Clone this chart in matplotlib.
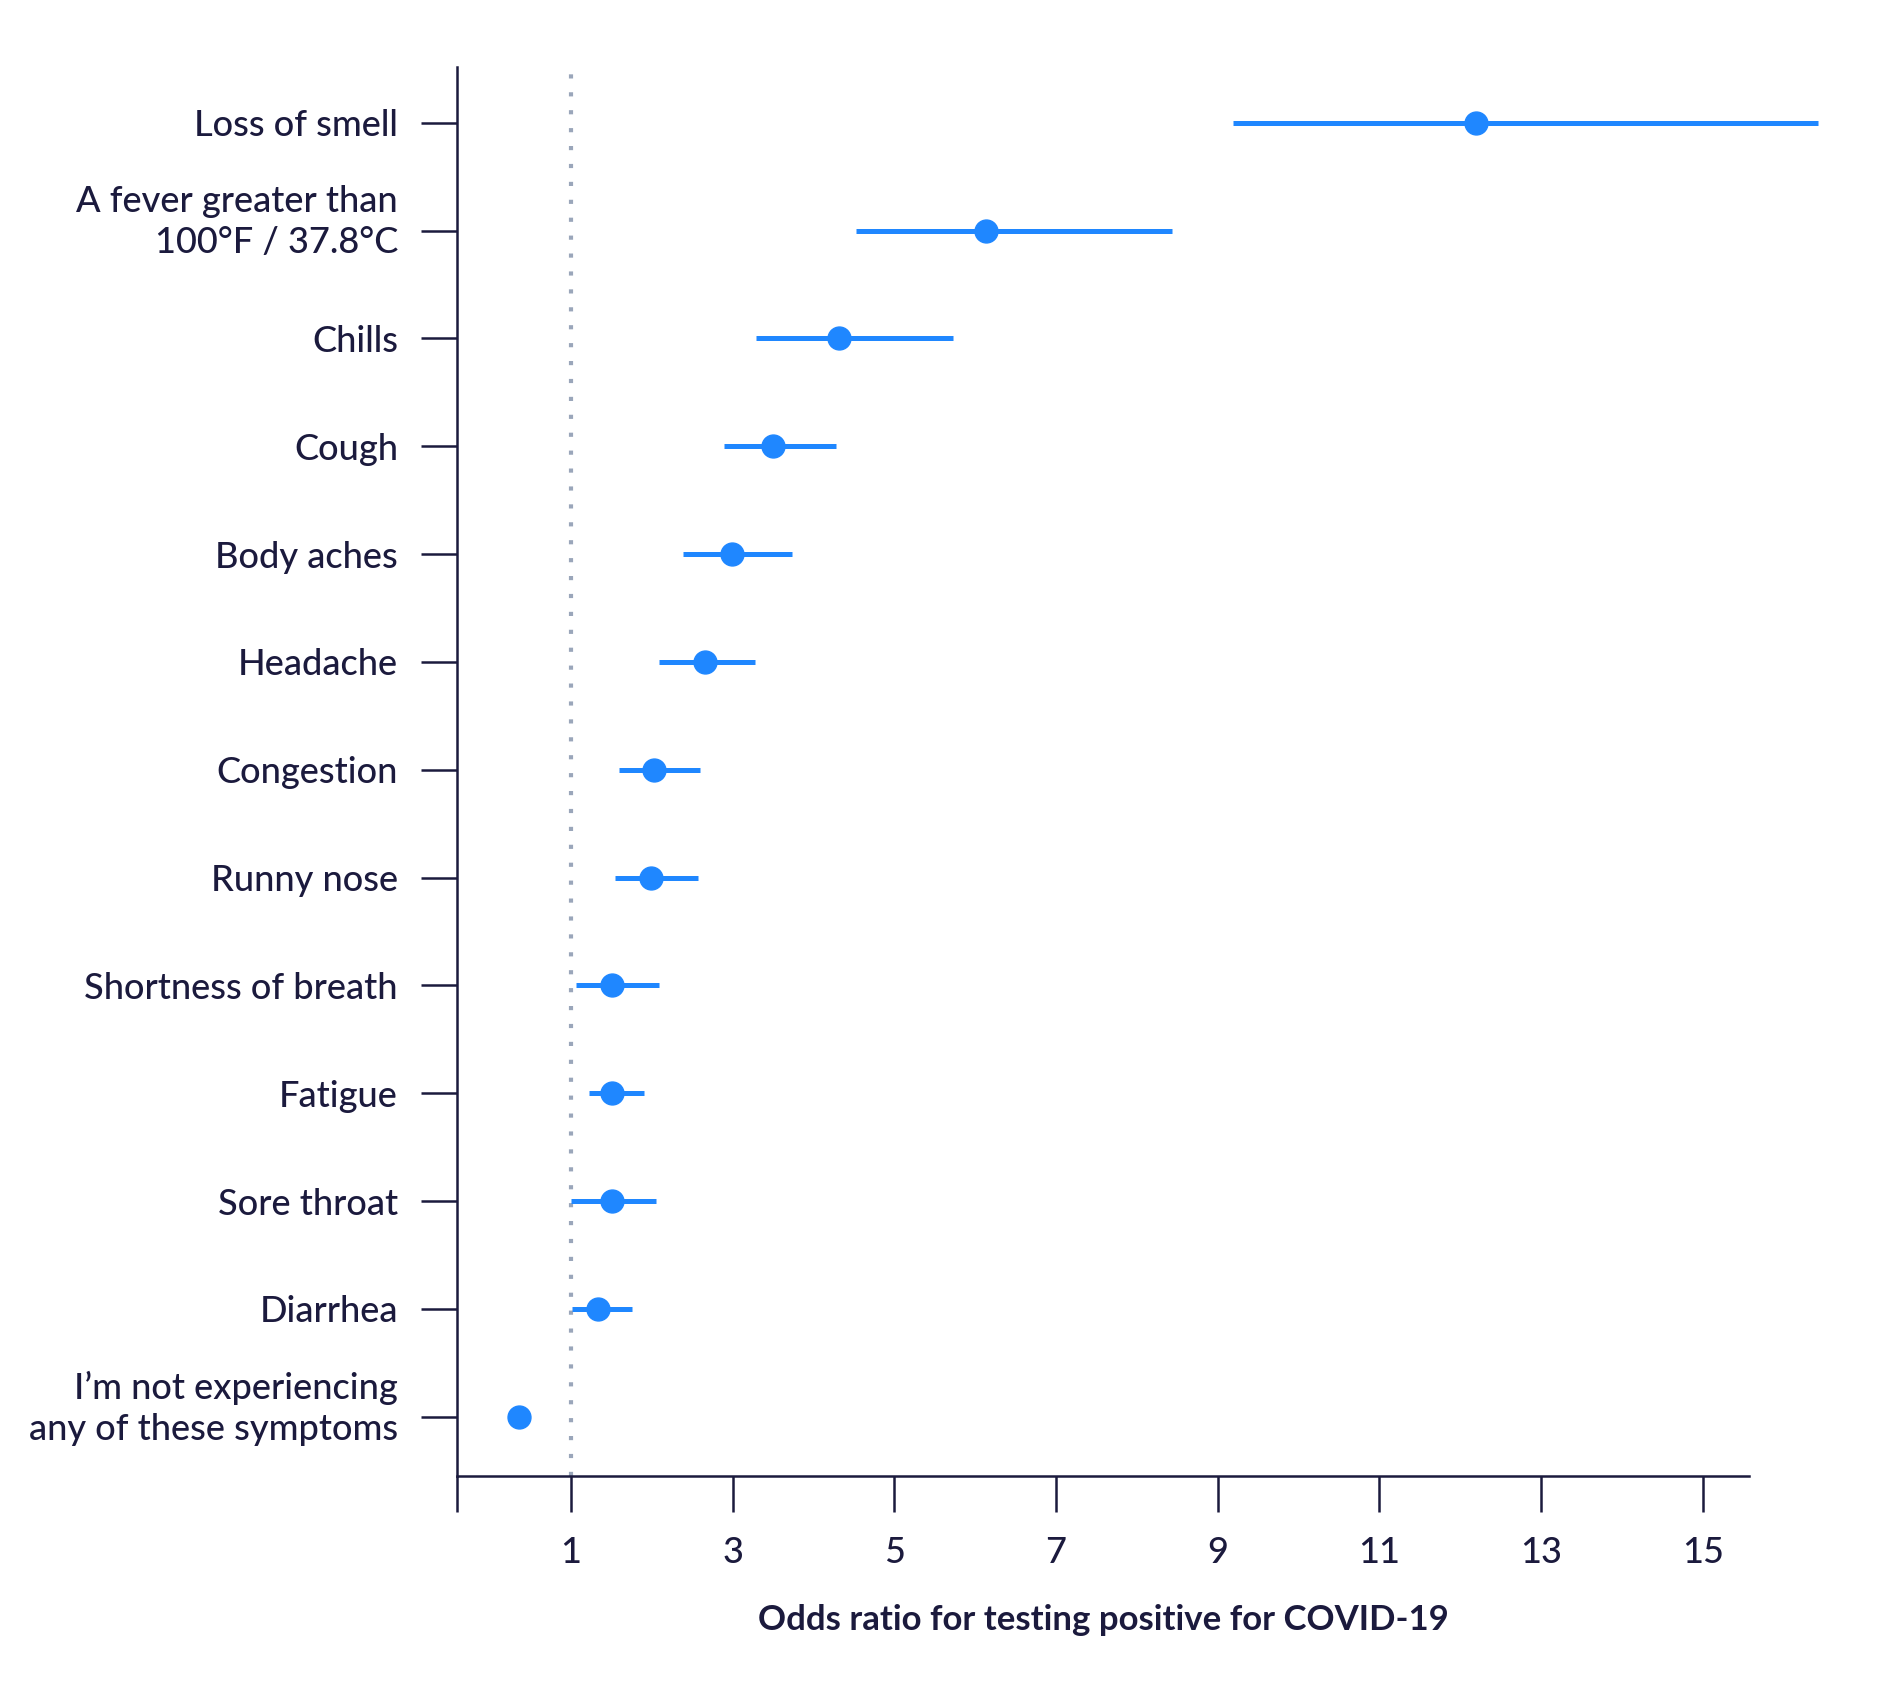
import matplotlib
matplotlib.use("Agg")
import matplotlib.pyplot as plt
import matplotlib.transforms as mtransforms

# Symptom odds ratios with confidence intervals
symptoms = [
    "Loss of smell",
    "A fever greater than\n100\u00b0F / 37.8\u00b0C",
    "Chills",
    "Cough",
    "Body aches",
    "Headache",
    "Congestion",
    "Runny nose",
    "Shortness of breath",
    "Fatigue",
    "Sore throat",
    "Diarrhea",
    "I\u2019m not experiencing\nany of these symptoms",
]
odds = [12.2, 6.13, 4.32, 3.5, 2.99, 2.66, 2.03, 1.99, 1.51, 1.51, 1.51, 1.34, 0.36]
ci_low = [9.19, 4.53, 3.29, 2.89, 2.38, 2.09, 1.60, 1.54, 1.06, 1.22, 1.00, 1.01, 0.32]
ci_high = [16.43, 8.44, 5.72, 4.28, 3.74, 3.28, 2.60, 2.57, 2.09, 1.90, 2.05, 1.75, 0.40]
xticks = [1, 3, 5, 7, 9, 11, 13, 15]

BLUE = "#1f87ff"
NAVY = "#1b1a3d"
DOT = "#9aa6ba"

plt.rcParams["font.family"] = ["Lato", "DejaVu Sans"]

fig = plt.figure(figsize=(19, 16.85), dpi=100)
ax = fig.add_axes([0.2405, 0.124, 0.680, 0.8364])

ypos = list(range(len(symptoms)))

ax.axvline(1, color=DOT, lw=3, ls=(0, (1, 3.3)), zorder=1)

for y, lo, hi, o in zip(ypos, ci_low, ci_high, odds):
    ax.plot([lo, hi], [y, y], color=BLUE, lw=3.6, solid_capstyle="butt",
            clip_on=False, zorder=2)
    ax.plot(o, y, "o", color=BLUE, ms=16.5, clip_on=False, zorder=3)

ax.set_xlim(-0.41, 15.57)
ax.set_ylim(12.55, -0.52)

ax.set_yticks(ypos)
ax.set_yticklabels(symptoms, fontsize=26, color=NAVY, fontweight="medium",
                   linespacing=1.3)
ax.set_xticks([-0.41] + xticks)
ax.set_xticklabels([""] + [str(t) for t in xticks], fontsize=26, color=NAVY,
                   fontweight="medium")

ax.tick_params(axis="y", length=26, width=1.8, color=NAVY, pad=16.5)
ax.tick_params(axis="x", length=26, width=1.8, color=NAVY, pad=17)

# two-line labels sit a little above their tick in the original
lift = mtransforms.ScaledTranslation(0, 11 / 72, fig.dpi_scale_trans)
for lab in ax.get_yticklabels():
    if "\n" in lab.get_text():
        lab.set_transform(lab.get_transform() + lift)

for side in ["top", "right"]:
    ax.spines[side].set_visible(False)
for side in ["left", "bottom"]:
    ax.spines[side].set_color(NAVY)
    ax.spines[side].set_linewidth(1.8)

ax.set_xlabel("Odds ratio for testing positive for COVID-19", fontsize=25,
              fontweight="bold", color=NAVY, labelpad=25)

fig.savefig("out.png", dpi=100, facecolor="white")
